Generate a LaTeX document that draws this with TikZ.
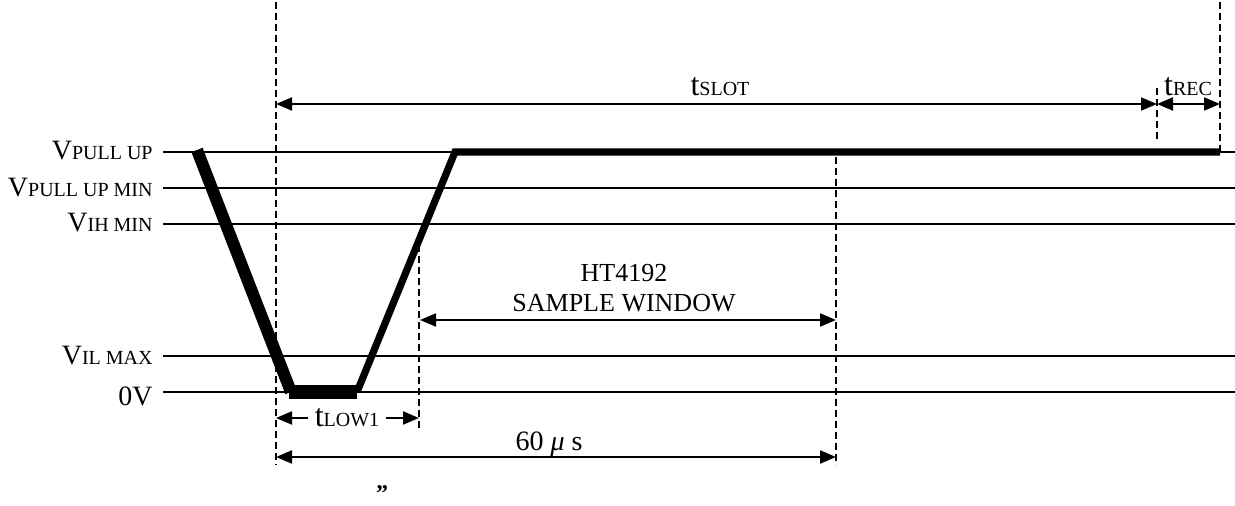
\documentclass[tikz,border=0pt]{standalone}
\usepackage{fontspec}
\setmainfont{Liberation Serif}
\usetikzlibrary{arrows.meta}
\newcommand{\Bg}{\fontsize{14}{16}\selectfont}
\newcommand{\Tt}{\fontsize{16}{18}\selectfont}
\newcommand{\Sm}{\fontsize{10}{12}\selectfont}
\newcommand{\Md}{\fontsize{13}{15}\selectfont}
\begin{document}
\begin{tikzpicture}[x=0.5pt,y=-0.5pt,
  level/.style={line width=1pt},
  guide/.style={line width=0.75pt, dash pattern=on 3.5pt off 2pt},
  tip/.tip={Triangle[length=8pt,width=6.5pt]},
  dimboth/.style={line width=1pt, tip-tip},
  dimone/.style={line width=1pt, -tip},
  lbl/.style={anchor=base east, inner sep=0pt},
  txt/.style={anchor=base, inner sep=0pt}]
\useasboundingbox (0,0) rectangle (1235,506);
% level lines
\foreach \yy in {152,188,224,356,392}{
  \draw[level] (163,\yy) -- (1235,\yy);
}
% labels
\node[lbl] (vpu) at (153,160) {{\Bg V}{\Sm PULL UP}};
\node[lbl] (vpum) at (153,197) {{\Bg V}{\Sm PULL UP MIN}};
\node[lbl] (vih) at (153,232) {{\Bg V}{\Sm IH MIN}};
\node[lbl] (vil) at (153,365) {{\Bg V}{\Sm IL MAX}};
\node[lbl] (zero) at (153,406) {\Bg 0V};
% guides
\coordinate (gA1) at (276,2);   \coordinate (gA2) at (276,465);
\coordinate (gB1) at (419,245); \coordinate (gB2) at (419,428);
\coordinate (gC1) at (836,157); \coordinate (gC2) at (836,465);
\coordinate (gD1) at (1157,88); \coordinate (gD2) at (1157,142);
\coordinate (gE1) at (1220,2);  \coordinate (gE2) at (1220,152);
\draw[guide] (gA1) -- (gA2);
\draw[guide] (gB1) -- (gB2);
\draw[guide] (gC1) -- (gC2);
\draw[guide] (gD1) -- (gD2);
\draw[guide] (gE1) -- (gE2);
% waveform
\draw[line width=6pt] (197,150) -- (291,392);
\draw[line width=7pt] (289,392) -- (357,392);
\draw[line width=3.6pt, line join=miter] (357,392) -- (455,152) -- (1220,152);
% tSLOT / tREC
\coordinate (sL) at (276,104); \coordinate (sM) at (1157,104); \coordinate (sR) at (1220,104);
\draw[dimboth] (sL) -- (sM);
\draw[dimboth] (sM) -- (sR);
\node[txt] (tslot) at (720,96) {{\Tt t}{\Sm SLOT}};
\node[txt] (trec) at (1188,96) {{\Tt t}{\Sm REC}};
% sample window
\coordinate (wL) at (420,320); \coordinate (wR) at (836,320);
\draw[dimboth] (wL) -- (wR);
\node[txt] (ht) at (624,282) {\Md HT4192};
\node[txt] (sw) at (624,312) {\Md SAMPLE WINDOW};
% tLOW1
\node[txt, inner xsep=3pt] (tlow) at (347,427) {{\Tt t}{\Sm LOW1}};
\coordinate (lL) at (276,418); \coordinate (lR) at (419,418);
\draw[dimone] (tlow.west |- lL) -- (lL);
\draw[dimone] (tlow.east |- lR) -- (lR);
% 60 us
\coordinate (mL) at (276,457); \coordinate (mR) at (836,457);
\draw[dimboth] (mL) -- (mR);
\node[txt] (sixty) at (549,451) {\Bg 60 \textit{μ} s};
% stray quote
\node[anchor=south, inner sep=0pt] (quote) at (382,502) {\fontsize{12}{12}\selectfont\bfseries\raisebox{0pt}[\height][-4.5pt]{”}};
\end{tikzpicture}
\end{document}
